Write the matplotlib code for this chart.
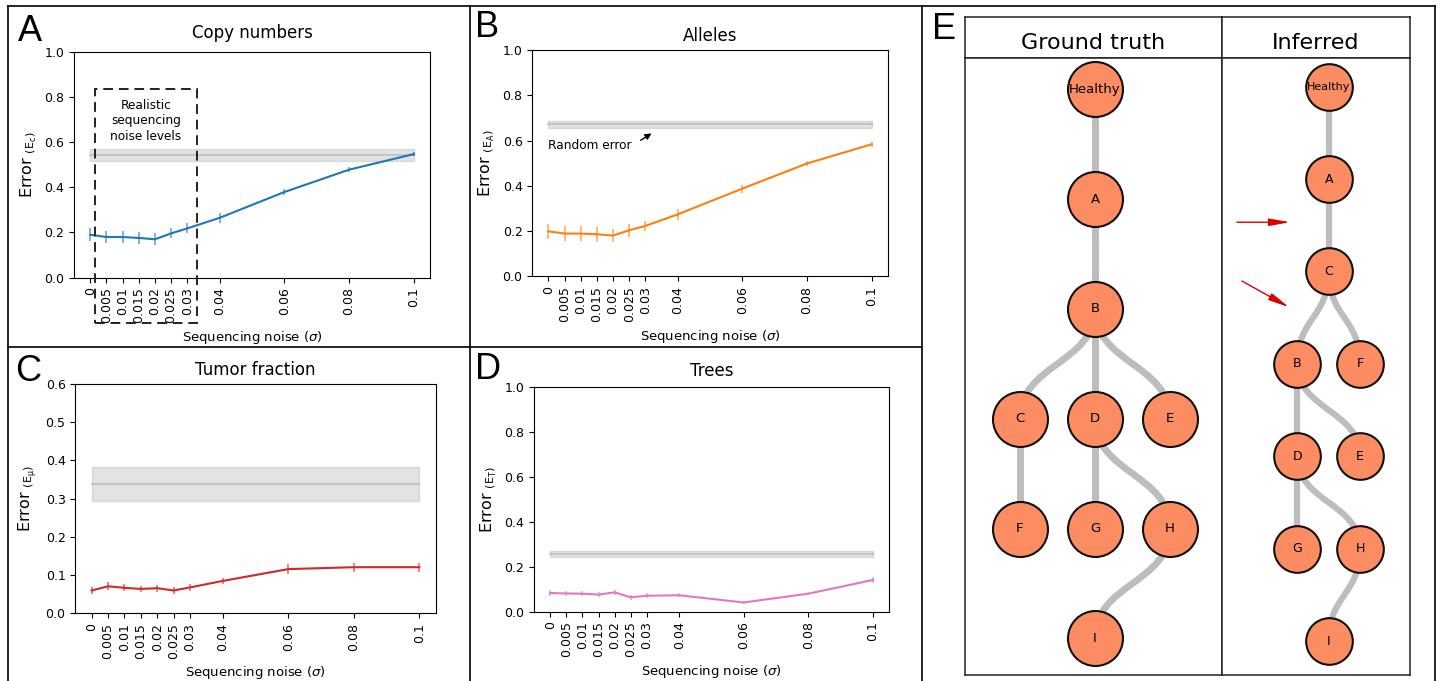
import matplotlib
matplotlib.use("Agg")
import matplotlib.pyplot as plt
from matplotlib.path import Path
from matplotlib.patches import PathPatch, Rectangle

W, H = 1440, 681

# noise levels on the x axis
noise = [0, 0.005, 0.01, 0.015, 0.02, 0.025, 0.03, 0.04, 0.06, 0.08, 0.1]
noise_labels = ["0", "0.005", "0.01", "0.015", "0.02", "0.025", "0.03",
                "0.04", "0.06", "0.08", "0.1"]

# A - copy numbers
cn_err = [0.190, 0.180, 0.180, 0.176, 0.170, 0.196, 0.218, 0.265, 0.379, 0.478, 0.547]
cn_sd = [0.029, 0.028, 0.028, 0.028, 0.027, 0.022, 0.022, 0.022, 0.015, 0.010, 0.010]
cn_random = (0.544, 0.026)
realistic_range = (0.0015, 0.033)

# B - alleles
allele_err = [0.199, 0.189, 0.189, 0.186, 0.180, 0.204, 0.223, 0.274, 0.388, 0.499, 0.584]
allele_sd = [0.033, 0.032, 0.032, 0.033, 0.029, 0.029, 0.023, 0.024, 0.018, 0.012, 0.011]
allele_random = (0.672, 0.017)

# C - tumor fraction
mu_err = [0.059, 0.070, 0.066, 0.063, 0.065, 0.059, 0.067, 0.084, 0.115, 0.120, 0.120]
mu_sd = [0.008, 0.010, 0.009, 0.009, 0.009, 0.009, 0.009, 0.008, 0.014, 0.012, 0.012]
mu_random = (0.338, 0.045)

# D - trees
tree_err = [0.083, 0.081, 0.080, 0.076, 0.086, 0.064, 0.071, 0.073, 0.041, 0.080, 0.141]
tree_sd = [0.012, 0.012, 0.012, 0.012, 0.010, 0.012, 0.010, 0.008, 0.005, 0.006, 0.015]
tree_random = (0.256, 0.015)

# E - trees (edges), layout as (column, depth)
gt_edges = [("Healthy", "A"), ("A", "B"), ("B", "C"), ("B", "D"), ("B", "E"),
            ("C", "F"), ("D", "G"), ("D", "H"), ("H", "I")]
gt_layout = {"Healthy": (0, 0), "A": (0, 1), "B": (0, 2), "C": (-1, 3), "D": (0, 3),
             "E": (1, 3), "F": (-1, 4), "G": (0, 4), "H": (1, 4), "I": (0, 5)}
inf_edges = [("Healthy", "A"), ("A", "C"), ("C", "B"), ("C", "F"), ("B", "D"),
             ("B", "E"), ("D", "G"), ("D", "H"), ("H", "I")]
inf_layout = {"Healthy": (0, 0), "A": (0, 1), "C": (0, 2), "B": (-0.5, 3), "F": (0.5, 3),
              "D": (-0.5, 4), "E": (0.5, 4), "G": (-0.5, 5), "H": (0.5, 5), "I": (0, 6)}
# red arrows pointing at the differences (tail, head)
inf_arrows = [((-1.465, 1.467), (-0.616, 1.467)), ((-1.385, 2.103), (-0.632, 2.387))]


def pix_box(x0, y0, x1, y1):
    return [x0 / W, 1 - y1 / H, (x1 - x0) / W, (y1 - y0) / H]


def error_panel(ax, values, spread, random_band, color, sub, title, ylim, yticks, pad):
    mean, half = random_band
    ends = [noise[0], noise[-1]]
    ax.fill_between(ends, [mean - half] * 2, [mean + half] * 2, color="gray", alpha=0.22)
    ax.plot(ends, [mean, mean], color="gray", alpha=0.3, lw=1.5)
    ax.errorbar(noise, values, yerr=spread, fmt="none", ecolor=color, alpha=0.6, elinewidth=1.3)
    ax.plot(noise, values, color=color, lw=1.5)
    ax.set_xlim(-0.005, 0.105)
    ax.set_ylim(*ylim)
    ax.set_yticks(yticks)
    ax.set_xticks(noise)
    ax.set_xticklabels(noise_labels, rotation=90)
    ax.tick_params(labelsize=9)
    ax.set_title(title, fontsize=12, pad=pad)
    ax.set_xlabel("Sequencing noise ($\\sigma$)", fontsize=9.5)
    ax.set_ylabel("Error " + r"$_{(\mathregular{E_{" + sub + r"}})}$", fontsize=11.5)


def draw_tree(ax, edges, layout, size, edge_lw, fs, fs_root):
    for a, b in edges:
        x1, y1 = layout[a]
        x2, y2 = layout[b]
        ym = (y1 + y2) / 2
        if x1 == x2:
            ax.plot([x1, x2], [y1, y2], color="#bdbdbd", lw=edge_lw, zorder=1,
                    solid_capstyle="butt")
        else:
            p = Path([(x1, y1), (x1, ym), (x2, ym), (x2, y2)],
                     [Path.MOVETO, Path.CURVE4, Path.CURVE4, Path.CURVE4])
            ax.add_patch(PathPatch(p, fc="none", ec="#bdbdbd", lw=edge_lw, zorder=1))
    names = list(layout)
    xs = [layout[n][0] for n in names]
    ys = [layout[n][1] for n in names]
    ax.scatter(xs, ys, s=size, c="#fc8d62", edgecolors="#111111", linewidths=1.5, zorder=2)
    for n in names:
        ax.text(layout[n][0], layout[n][1], n, ha="center", va="center",
                fontsize=fs_root if n == "Healthy" else fs, zorder=3)


def cell(ax):
    ax.set_xticks([])
    ax.set_yticks([])
    for s in ax.spines.values():
        s.set_linewidth(1.1)
        s.set_color("#222222")


fig = plt.figure(figsize=(W / 100, H / 100), dpi=100)

# panel borders
bg = fig.add_axes([0, 0, 1, 1], zorder=-1)
bg.set_xlim(0, W)
bg.set_ylim(H, 0)
bg.axis("off")
for xs, ys in [([8, 1435], [6, 6]), ([8, 8], [6, H]), ([1435, 1435], [6, H]),
               ([469.5, 469.5], [6, H]), ([922, 922], [6, H]), ([8, 922], [347, 347])]:
    bg.plot(xs, ys, color="black", lw=1.2)

axA = fig.add_axes(pix_box(74, 51.7, 430, 277.7))
error_panel(axA, cn_err, cn_sd, cn_random, "tab:blue", "c", "Copy numbers",
            (0, 1), [0, 0.2, 0.4, 0.6, 0.8, 1.0], 10)
lo, hi = realistic_range
axA.add_patch(Rectangle((lo, -0.2), hi - lo, 1.035, fill=False, ls=(0, (5, 3)), lw=1.4,
                        ec="#222222", clip_on=False, zorder=5))
axA.text((lo + hi) / 2, 0.695, "Realistic\nsequencing\nnoise levels", ha="center",
         va="center", fontsize=8.7, linespacing=1.25)

axB = fig.add_axes(pix_box(532.3, 50.3, 887.7, 276.3))
error_panel(axB, allele_err, allele_sd, allele_random, "tab:orange", "A", "Alleles",
            (0, 1), [0, 0.2, 0.4, 0.6, 0.8, 1.0], 7)
axB.annotate("Random error", xy=(0.0319, 0.632), xytext=(0, 0.578), ha="left", va="center",
             fontsize=8.7,
             arrowprops=dict(arrowstyle="-|>", color="black", lw=1, mutation_scale=9,
                             relpos=(1, 0.5), shrinkA=5, shrinkB=0))

axC = fig.add_axes(pix_box(75.3, 384, 435.7, 613))
error_panel(axC, mu_err, mu_sd, mu_random, "tab:red", r"\mu", "Tumor fraction",
            (0, 0.6), [0, 0.1, 0.2, 0.3, 0.4, 0.5, 0.6], 6.5)

axD = fig.add_axes(pix_box(534, 386.7, 889, 611.7))
error_panel(axD, tree_err, tree_sd, tree_random, "tab:pink", "T", "Trees",
            (0, 1), [0, 0.2, 0.4, 0.6, 0.8, 1.0], 8)

# panel E: ground truth vs inferred tree
hdr_gt = fig.add_axes(pix_box(965, 16.7, 1221.7, 58.3))
hdr_inf = fig.add_axes(pix_box(1221.7, 16.7, 1409.5, 58.3))
for ax, label in [(hdr_gt, "Ground truth"), (hdr_inf, "Inferred")]:
    cell(ax)
    ax.text(0.5, 0.22, label, transform=ax.transAxes, ha="center", va="baseline", fontsize=16)

body_gt = fig.add_axes(pix_box(965, 58.3, 1221.7, 675))
cell(body_gt)
body_gt.set_xlim(-1.733, 1.689)
body_gt.set_ylim(5.334, -0.282)
draw_tree(body_gt, gt_edges, gt_layout, 1568, 5, 9.5, 9.5)

body_inf = fig.add_axes(pix_box(1221.7, 58.3, 1409.5, 675))
cell(body_inf)
body_inf.set_xlim(-1.707, 1.289)
body_inf.set_ylim(6.367, -0.307)
draw_tree(body_inf, inf_edges, inf_layout, 1129, 4.5, 9, 8)
for tail, head in inf_arrows:
    body_inf.annotate("", xy=head, xytext=tail,
                      arrowprops=dict(arrowstyle="-|>,head_length=0.9,head_width=0.16",
                                      color="#dd0000", lw=1, mutation_scale=14,
                                      shrinkA=0, shrinkB=0))

# panel letters
for letter, x, y in [("A", 18, 40.7), ("B", 475, 36.7), ("C", 15, 381),
                     ("D", 475, 379.3), ("E", 931.7, 39.3)]:
    fig.text(x / W, 1 - y / H, letter, fontsize=26, family="Liberation Sans", va="baseline")

fig.savefig("out.png", dpi=100)
